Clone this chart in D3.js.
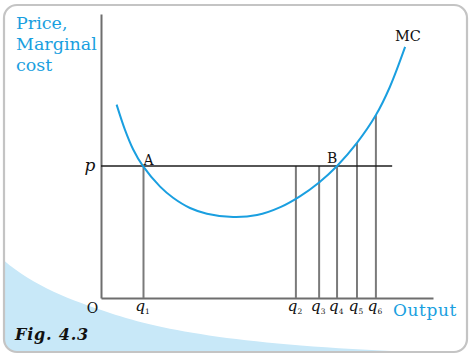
<!DOCTYPE html>
<html><head><meta charset="utf-8">
<script src="https://cdn.jsdelivr.net/npm/d3@7/dist/d3.min.js"></script>
<style>body{margin:0;background:#fff}svg{display:block}</style>
</head><body>
<script>
// ---- data (in chart units: output 0..100, price 0..100) ----
const mcX = [4.7, 7.2, 9.7, 12.6, 17.8, 21.7, 26.8, 31.9, 39.8, 47.0, 54.2, 59.9, 65.7, 71.1, 77.1, 82.8, 87.0, 91.6];
const mcY = [68.1, 59.3, 52.3, 46.5, 39.2, 35.3, 31.7, 29.7, 28.5, 29.2, 32.1, 35.8, 40.7, 46.5, 54.6, 64.4, 74.3, 88.4];
const priceP = 46.5;
const priceLineEnd = 87.7;
const qLabels = ["1", "2", "3", "4", "5", "6"];
const qValues = [12.8, 58.7, 65.7, 71.1, 77.1, 82.8];
const qTops = [46.5, 46.5, 46.5, 46.5, 54.6, 64.4];
const pointLabels = ["A", "B"];
const pointX = [12.8, 71.1];

const W = 473, H = 358;
const blue = "#1a9fe0";
const svg = d3.select("body").append("svg").attr("width", W).attr("height", H);

// frame + decorative blue corner
const defs = svg.append("defs");
defs.append("clipPath").attr("id", "frameClip").append("rect")
  .attr("x", 4).attr("y", 5).attr("width", 463).attr("height", 347).attr("rx", 13);
svg.append("rect").attr("x", 4).attr("y", 5).attr("width", 463).attr("height", 347).attr("rx", 13)
  .attr("fill", "#fff");
svg.append("path").attr("clip-path", "url(#frameClip)")
  .attr("d", "M0,257 C30,285 70,300 110,313 C170,333 260,348 470,354 L470,360 L0,360 Z")
  .attr("fill", "#c8e8f8");
svg.append("rect").attr("x", 4).attr("y", 5).attr("width", 463).attr("height", 347).attr("rx", 13)
  .attr("fill", "none").attr("stroke", "#c4c4c4").attr("stroke-width", 2.2);

const x = d3.scaleLinear([0, 100], [101, 433]);
const y = d3.scaleLinear([0, 100], [298, 14]);

// axes
const ax = svg.append("g");
ax.append("g").attr("transform", `translate(0,${y(0)})`)
  .call(d3.axisBottom(x).tickValues([]).tickSizeOuter(0))
  .call(g => g.select(".domain").attr("stroke", "#6e6e6e").attr("stroke-width", 2));
ax.append("g").attr("transform", `translate(${x(0)},0)`)
  .call(d3.axisLeft(y).tickValues([]).tickSizeOuter(0))
  .call(g => g.select(".domain").attr("stroke", "#6e6e6e").attr("stroke-width", 2));

// vertical q lines
svg.append("g").selectAll("line").data(qValues).join("line")
  .attr("x1", d => x(d)).attr("x2", d => x(d))
  .attr("y1", y(0)).attr("y2", (d, i) => y(qTops[i]))
  .attr("stroke", "#7a7a7a").attr("stroke-width", 2);

// price line
svg.append("line").attr("x1", x(0)).attr("x2", x(priceLineEnd))
  .attr("y1", y(priceP)).attr("y2", y(priceP))
  .attr("stroke", "#1e1e1e").attr("stroke-width", 1.6);

// MC curve
const mcData = mcX.map((v, i) => [v, mcY[i]]);
svg.append("path").datum(mcData)
  .attr("d", d3.line().x(d => x(d[0])).y(d => y(d[1])).curve(d3.curveCatmullRom.alpha(0.5)))
  .attr("fill", "none").attr("stroke", blue).attr("stroke-width", 2);

const serif = "'DejaVu Serif', serif";
// y-axis title
const yt = svg.append("text").attr("font-family", serif).attr("font-size", 17.5).attr("fill", blue);
["Price,", "Marginal", "cost"].forEach((t, i) =>
  yt.append("tspan").attr("x", 16).attr("y", 29 + i * 21).text(t));

// Output
svg.append("text").attr("x", 393).attr("y", 316).attr("font-family", serif)
  .attr("font-size", 17).attr("letter-spacing", 0.6).attr("fill", blue).text("Output");

// MC label
svg.append("text").attr("x", 408).attr("y", 41).attr("text-anchor", "middle")
  .attr("font-family", serif).attr("font-size", 14.5).attr("fill", "#111").text("MC");

// A, B
svg.append("g").selectAll("text").data(pointLabels).join("text")
  .attr("x", (d, i) => x(pointX[i]) + (i === 0 ? 0 : -10))
  .attr("y", (d, i) => y(priceP) - (i === 0 ? 1 : 3))
  .attr("font-family", serif).attr("font-size", 14).attr("fill", "#111").text(d => d);

// p label
svg.append("text").attr("x", 90).attr("y", y(priceP) + 5).attr("text-anchor", "middle")
  .attr("font-family", serif).attr("font-style", "italic").attr("font-size", 17)
  .attr("fill", "#111").text("p");

// O
svg.append("text").attr("x", 92.5).attr("y", 313).attr("text-anchor", "middle")
  .attr("font-family", serif).attr("font-size", 14).attr("fill", "#111").text("O");

// q labels
const ql = svg.append("g").selectAll("text").data(qLabels).join("text")
  .attr("x", (d, i) => x(qValues[i]) - 1).attr("y", 311).attr("text-anchor", "middle")
  .attr("font-family", serif).attr("fill", "#111");
ql.append("tspan").attr("font-style", "italic").attr("font-size", 15.5).text("q");
ql.append("tspan").attr("font-size", 7.5).attr("dy", 3).text(d => d);

// Fig label
svg.append("text").attr("x", 15).attr("y", 340).attr("font-family", serif)
  .attr("font-weight", "bold").attr("font-style", "italic").attr("font-size", 16)
  .attr("letter-spacing", 0.8).attr("fill", "#111").text("Fig. 4.3");
</script>
</body></html>
